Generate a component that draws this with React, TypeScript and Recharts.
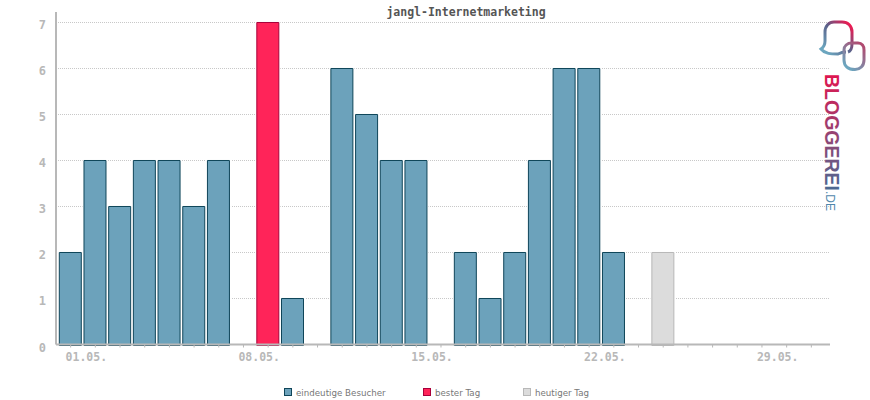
import React from "react";
import { BarChart, Bar, XAxis, YAxis, CartesianGrid, Legend, Rectangle } from "recharts";

const categories = ["30.04.","01.05.","02.05.","03.05.","04.05.","05.05.","06.05.","07.05.","08.05.","09.05.","10.05.","11.05.","12.05.","13.05.","14.05.","15.05.","16.05.","17.05.","18.05.","19.05.","20.05.","21.05.","22.05.","23.05.","24.05.","25.05.","26.05.","27.05.","28.05.","29.05.","30.05."];
const visitors = [2,4,3,4,4,3,4,0,0,1,0,6,5,4,4,0,2,1,2,4,6,6,2,0,0,0,0,0,0,0,0];
const best =     [0,0,0,0,0,0,0,0,7,0,0,0,0,0,0,0,0,0,0,0,0,0,0,0,0,0,0,0,0,0,0];
const today =    [0,0,0,0,0,0,0,0,0,0,0,0,0,0,0,0,0,0,0,0,0,0,0,0,2,0,0,0,0,0,0];
const labelled = ["01.05.","08.05.","15.05.","22.05.","29.05."];
const yTicks = [0,1,2,3,4,5,6,7];
const title = "jangl-Internetmarketing";
const names = { visitors: "eindeutige Besucher", best: "bester Tag", today: "heutiger Tag" };

const data = categories.map((day, i) => ({ day, visitors: visitors[i], best: best[i], today: today[i] }));

const AXIS = "#b8b8b8";
const MONO = "'DejaVu Sans Mono', monospace";

const XTick = (p: any) =>
  labelled.includes(p.payload.value) ? (
    <text x={p.x - 9} y={361} textAnchor="middle" fontFamily={MONO} fontWeight={700} fontSize={11.5} fill={AXIS}>
      {p.payload.value}
    </text>
  ) : (
    <g />
  );

const YTick = (p: any) => (
  <text x={p.x - 2} y={p.y + 7} textAnchor="end" fontFamily={MONO} fontWeight={700} fontSize={12} fill={AXIS}>
    {p.payload.value}
  </text>
);

const BarShape = (p: any) => {
  if (!p.height) return <g />;
  return (
    <g>
      <rect x={p.x - 1.5} y={p.y - 1.5} width={p.width + 3} height={p.height + 1.5} fill="#fff" />
      <Rectangle x={p.x} y={p.y} width={p.width} height={p.height + 1} fill={p.fill} stroke={p.stroke} strokeWidth={1} />
    </g>
  );
};

const legendX = [284, 423, 523];
const LegendContent = (props: any) => (
  <svg width={870} height={20} style={{ display: "block" }}>
    {(props.payload || []).map((e: any, i: number) => (
      <g key={e.value}>
        <rect x={legendX[i] + 0.5} y={5.5} width={7} height={7} fill={e.payload.fill} stroke={e.payload.stroke} strokeWidth={1} />
        <text x={legendX[i] + 12} y={12.5} fontFamily="'DejaVu Sans', sans-serif" fontSize={8.7} fill="#777">
          {e.value}
        </text>
      </g>
    ))}
  </svg>
);

const Logo = () => (
  <svg width={870} height={400} style={{ position: "absolute", left: 0, top: 0, pointerEvents: "none" }}>
    <defs>
      <linearGradient id="txt" x1="0" y1="0" x2="116" y2="0" gradientUnits="userSpaceOnUse">
        <stop offset="0" stopColor="#e0164f" />
        <stop offset="0.6" stopColor="#8a4a78" />
        <stop offset="1" stopColor="#4a6a92" />
      </linearGradient>
      <linearGradient id="b1" x1="825" y1="50" x2="852" y2="25" gradientUnits="userSpaceOnUse">
        <stop offset="0" stopColor="#6ca6bf" />
        <stop offset="0.5" stopColor="#5a5f88" />
        <stop offset="1" stopColor="#f5164f" />
      </linearGradient>
      <linearGradient id="b2" x1="845" y1="65" x2="862" y2="45" gradientUnits="userSpaceOnUse">
        <stop offset="0" stopColor="#6ca6bf" />
        <stop offset="1" stopColor="#b04a70" />
      </linearGradient>
    </defs>
    <path d="M846 52 C843 52 840 53 838 54 C831 54 825 54 821 49 C824 47 825 44 825 41 L825 32 C825 26 829 22 834 22 L842 22 C848 22 852 26 852 32 L852 44 C852 48 851 51 848 52" fill="none" stroke="url(#b1)" strokeWidth={3} />
    <path d="M852 43 L858 43 C862 43 864 46 864 50 L864 60 C864 66 860 69.5 855 69.5 C848 69.5 844 66 844 60 L844 50 C844 46 847 43 852 43" fill="none" stroke="url(#b2)" strokeWidth={3} />
    <g transform="translate(825,74) rotate(90)">
      <text x={0} y={0} fontFamily="'Liberation Sans', sans-serif" fontWeight={700} fontSize={19.5} fill="url(#txt)">BLOGGEREI</text>
    </g>
    <g transform="translate(825.5,191) rotate(90)">
      <text x={0} y={0} fontFamily="'Liberation Sans', sans-serif" fontSize={12} fill="#4f87ab">.DE</text>
    </g>
  </svg>
);

export default function App() {
  return (
    <div style={{ position: "absolute", left: 0, top: 0, width: 870, height: 400, background: "#fff" }}>
      <BarChart
        width={870}
        height={400}
        data={data}
        barCategoryGap={0}
        margin={{ top: 12, right: 40, bottom: 0, left: 0 }}
      >
        <CartesianGrid vertical={false} horizontalValues={yTicks} stroke="#c8c8c8" strokeDasharray="1 1" />
        <XAxis
          dataKey="day"
          interval={0}
          height={35.5}
          padding={{ left: 2.3, right: 6.31 }}
          axisLine={{ stroke: AXIS, strokeWidth: 2 }}
          tickLine={{ stroke: AXIS, strokeWidth: 1 }}
          tickSize={3}
          tick={XTick}
        />
        <YAxis
          width={56}
          domain={[0, 7.228]}
          ticks={yTicks}
          interval={0}
          axisLine={{ stroke: AXIS, strokeWidth: 2 }}
          tickLine={false}
          tick={YTick}
        />
        <Bar dataKey="visitors" name={names.visitors} stackId="a" barSize={22} fill="#6ca2bb" stroke="#0f4559" shape={BarShape} isAnimationActive={false} />
        <Bar dataKey="best" name={names.best} stackId="a" barSize={22} fill="#ff2459" stroke="#a8003a" shape={BarShape} isAnimationActive={false} />
        <Bar dataKey="today" name={names.today} stackId="a" barSize={22} fill="#dcdcdc" stroke="#b8b8b8" shape={BarShape} isAnimationActive={false} />
        <Legend content={LegendContent} itemSorter={null} wrapperStyle={{ left: 0, top: 383, width: 870 }} />
        <text x={466} y={16} textAnchor="middle" fontFamily={MONO} fontWeight={700} fontSize={11.5} fill="#555">
          {title}
        </text>
      </BarChart>
      <Logo />
    </div>
  );
}
